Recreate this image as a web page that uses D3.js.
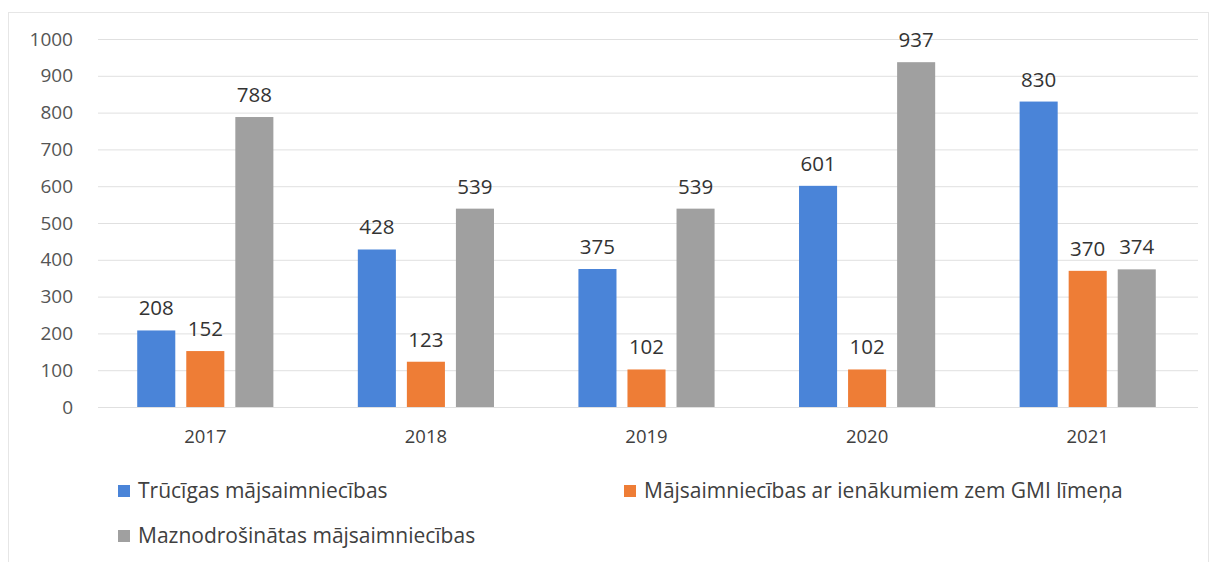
<!DOCTYPE html>
<html>
<head>
<meta charset="utf-8">
<script src="https://cdn.jsdelivr.net/npm/d3@7"></script>
<style>
  body { margin: 0; background: #fff; }
  text { font-family: "Open Sans", "Noto Sans", sans-serif; }
</style>
</head>
<body>
<div id="chart"></div>
<script>
const years = ["2017", "2018", "2019", "2020", "2021"];
const seriesNames = [
  "Trūcīgas mājsaimniecības",
  "Mājsaimniecības ar ienākumiem zem GMI līmeņa",
  "Maznodrošinātas mājsaimniecības"
];
const trucigas = [208, 428, 375, 601, 830];
const zemGmi = [152, 123, 102, 102, 370];
const maznodr = [788, 539, 539, 937, 374];
const yTicks = [0, 100, 200, 300, 400, 500, 600, 700, 800, 900, 1000];
const colors = ["#4a84d8", "#ee7d36", "#a0a0a0"];

const width = 1214, height = 562;
const svg = d3.select('#chart')
    .append('svg')
    .attr('width', width)
    .attr('height', height);

// chart frame
svg.append('rect')
    .attr('x', 8.5).attr('y', 12.5)
    .attr('width', 1200).attr('height', 560)
    .attr('fill', 'none')
    .attr('stroke', '#e6e6e6');

const x0 = d3.scaleBand().domain(years).range([95, 1198])
    .paddingInner(0.333).paddingOuter(0.1665);
const x1 = d3.scaleBand().domain(d3.range(3)).range([0, x0.bandwidth()])
    .paddingInner(0.224).paddingOuter(0.112);
const y = d3.scaleLinear().domain([0, 1000]).range([407, 39]);

// gridlines
svg.append('g')
    .selectAll('line')
    .data(yTicks)
    .enter()
    .append('line')
    .attr('x1', 98).attr('x2', 1198)
    .attr('y1', d => y(d) + 0.5).attr('y2', d => y(d) + 0.5)
    .attr('stroke', '#e0e0e0')
    .attr('stroke-width', 1);

// y axis labels
const yAxis = d3.axisLeft(y).tickValues(yTicks).tickFormat(d3.format('d')).tickSize(0).tickPadding(0);
svg.append('g')
    .attr('transform', 'translate(73,0)')
    .call(yAxis)
    .call(g => g.select('.domain').remove())
    .selectAll('text')
    .attr('font-size', 19)
    .attr('fill', '#555')
    .attr('font-family', '"DejaVu Sans", sans-serif');

// x axis labels
const xAxis = d3.axisBottom(x0).tickSize(0).tickPadding(0);
svg.append('g')
    .attr('transform', 'translate(0,430)')
    .call(xAxis)
    .call(g => g.select('.domain').remove())
    .selectAll('text')
    .attr('font-size', 18.5)
    .attr('fill', '#404040')
    .attr('font-family', '"Open Sans", sans-serif');

const rows = years.map((yr, i) => ({ year: yr, values: [trucigas[i], zemGmi[i], maznodr[i]] }));

const groups = svg.append('g')
    .selectAll('g')
    .data(rows)
    .enter()
    .append('g')
    .attr('transform', d => `translate(${x0(d.year)},0)`);

groups.selectAll('rect')
    .data(d => d.values.map((v, k) => ({ k, v })))
    .enter()
    .append('rect')
    .attr('x', d => x1(d.k))
    .attr('y', d => y(d.v))
    .attr('width', x1.bandwidth())
    .attr('height', d => y(0) - y(d.v))
    .attr('fill', d => colors[d.k]);

groups.selectAll('text.val')
    .data(d => d.values.map((v, k) => ({ k, v })))
    .enter()
    .append('text')
    .attr('class', 'val')
    .attr('x', d => x1(d.k) + x1.bandwidth() / 2)
    .attr('y', d => y(d.v) - 15)
    .attr('text-anchor', 'middle')
    .attr('font-size', 20.5)
    .attr('fill', '#333')
    .text(d => d.v);

// legend
const legendPos = [[118, 491], [624, 491], [118, 536]];
const legend = svg.append('g')
    .selectAll('g')
    .data(seriesNames)
    .enter()
    .append('g')
    .attr('transform', (d, i) => `translate(${legendPos[i][0]},${legendPos[i][1]})`);

legend.append('rect')
    .attr('x', 0).attr('y', -6)
    .attr('width', 12).attr('height', 12)
    .attr('fill', (d, i) => colors[i]);

legend.append('text')
    .attr('x', 20)
    .attr('y', 7)
    .attr('font-size', 21)
    .attr('fill', '#404040')
    .text(d => d);
</script>
</body>
</html>
